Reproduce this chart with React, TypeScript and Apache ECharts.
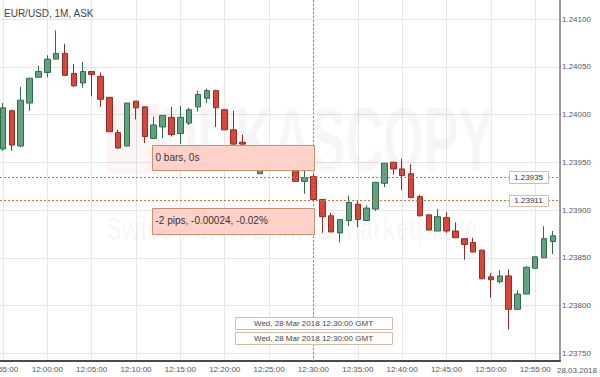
import React, { useEffect, useRef } from 'react';
import * as echarts from 'echarts';

const title = 'EUR/USD, 1M, ASK';
const dateLabel = '28.03.2018';
const measureBars = '0 bars, 0s';
const measurePips = '-2 pips, -0.00024, -0.02%';
const crossTime = 'Wed, 28 Mar 2018 12:30:00 GMT';
const levelA = 1.23935;
const levelB = 1.23911;
const crossIdx = 35;

const times = [
  '11:55', '11:56', '11:57', '11:58', '11:59',
  '12:00', '12:01', '12:02', '12:03', '12:04', '12:05', '12:06', '12:07', '12:08', '12:09',
  '12:10', '12:11', '12:12', '12:13', '12:14', '12:15', '12:16', '12:17', '12:18', '12:19',
  '12:20', '12:21', '12:22', '12:23', '12:24', '12:25', '12:26', '12:27', '12:28', '12:29',
  '12:30', '12:31', '12:32', '12:33', '12:34', '12:35', '12:36', '12:37', '12:38', '12:39',
  '12:40', '12:41', '12:42', '12:43', '12:44', '12:45', '12:46', '12:47', '12:48', '12:49',
  '12:50', '12:51', '12:52', '12:53', '12:54', '12:55', '12:56', '12:57',
];

const opens = [
  1.23964, 1.24004, 1.23967, 1.24012, 1.24039, 1.24044, 1.24058, 1.24064, 1.24043, 1.24033,
  1.24045, 1.2404, 1.24018, 1.23981, 1.23967, 1.24014, 1.24008, 1.23975, 1.23987, 1.23997,
  1.2398, 1.23991, 1.24008, 1.24017, 1.24025, 1.24005, 1.23984, 1.23971, 1.23966, 1.23938,
  1.2395, 1.23958, 1.2395, 1.23944, 1.2393, 1.23935, 1.23911, 1.23894, 1.23876, 1.23889,
  1.23906, 1.23889, 1.23901, 1.23928, 1.2395, 1.23943, 1.23938, 1.23914, 1.23895, 1.23878,
  1.23892, 1.23878, 1.2387, 1.23866, 1.23858, 1.2383, 1.23825, 1.23831, 1.23796, 1.23812,
  1.23839, 1.2385, 1.23867,
];
const closes = [
  1.24007, 1.23968, 1.24015, 1.24038, 1.24045, 1.24058, 1.24064, 1.24041, 1.2403, 1.24045,
  1.24042, 1.24016, 1.23982, 1.23965, 1.24012, 1.24007, 1.23977, 1.23989, 1.23999, 1.23979,
  1.23997, 1.24005, 1.24021, 1.24025, 1.24007, 1.23984, 1.23969, 1.23969, 1.23942, 1.2395,
  1.23958, 1.2395, 1.23955, 1.2393, 1.23934, 1.23911, 1.23893, 1.23877, 1.2389, 1.23908,
  1.2389, 1.23902, 1.23929, 1.23949, 1.23943, 1.23936, 1.23913, 1.23894, 1.23879, 1.23893,
  1.23878, 1.23871, 1.23864, 1.23856, 1.23828, 1.23827, 1.23831, 1.23796, 1.23812, 1.2384,
  1.23851, 1.2387, 1.23873,
];
const lows = [
  1.23962, 1.23962, 1.23966, 1.24004, 1.24039, 1.24039, 1.24058, 1.24041, 1.24029, 1.24028,
  1.24019, 1.24008, 1.23982, 1.23964, 1.23967, 1.23995, 1.2397, 1.23975, 1.23975, 1.23977,
  1.23969, 1.23989, 1.24003, 1.24012, 1.23987, 1.23984, 1.23968, 1.23962, 1.23941, 1.23938,
  1.23948, 1.23947, 1.23948, 1.2393, 1.23917, 1.2391, 1.23876, 1.23877, 1.23866, 1.23883,
  1.23882, 1.23889, 1.23899, 1.23924, 1.23937, 1.23921, 1.23913, 1.23893, 1.23879, 1.23878,
  1.23876, 1.23871, 1.23848, 1.23856, 1.23828, 1.23808, 1.23823, 1.23775, 1.23796, 1.23812,
  1.23839, 1.2385, 1.23854,
];
const highs = [
  1.24012, 1.24005, 1.24029, 1.24038, 1.24051, 1.24062, 1.24088, 1.24074, 1.24053, 1.24055,
  1.24045, 1.24044, 1.24018, 1.23984, 1.24012, 1.24014, 1.24008, 1.23998, 1.23999, 1.24008,
  1.24009, 1.24007, 1.24025, 1.24027, 1.24026, 1.24005, 1.24004, 1.23979, 1.23968, 1.23955,
  1.23963, 1.23961, 1.23957, 1.23945, 1.23942, 1.23938, 1.23911, 1.23897, 1.2389, 1.23915,
  1.2391, 1.23905, 1.23929, 1.23949, 1.2395, 1.23954, 1.23948, 1.23916, 1.23895, 1.23901,
  1.23898, 1.23887, 1.2387, 1.23871, 1.23858, 1.23834, 1.23837, 1.23838, 1.23816, 1.23841,
  1.23851, 1.23883, 1.23878,
];

const xMin = -0.327;
const xMax = 62.79;
const yMin = 1.237419;
const yMax = 1.241199;

const FONT = "'Liberation Sans', Arial, sans-serif";

export default function App() {
  const ref = useRef<HTMLDivElement>(null);

  useEffect(() => {
    const chart = echarts.init(ref.current as HTMLDivElement, null, { renderer: 'svg' });
    const data = times.map((_, i) => [i, opens[i], closes[i], lows[i], highs[i]]);

    chart.setOption({
      animation: false,
      backgroundColor: '#ffffff',
      grid: { left: 0, right: 40, top: 0, bottom: 16, containLabel: false, outerBoundsMode: 'none' },
      xAxis: {
        type: 'value',
        min: xMin,
        max: xMax,
        splitNumber: 13,
        minInterval: 5,
        maxInterval: 5,
        axisLine: { show: true, onZero: false, lineStyle: { color: '#4a4a4a', width: 2 } },
        axisTick: { show: false },
        axisLabel: {
          showMinLabel: false,
          showMaxLabel: false,
          fontSize: 8,
          fontFamily: FONT,
          color: '#555',
          margin: 4,
          formatter: (v: number) => {
            const i = Math.round(v);
            if (Math.abs(v - i) > 1e-6 || i % 5 !== 0 || i < 0 || i >= times.length) return '';
            return times[i] + ':00';
          },
        },
        splitLine: {
          show: true,
          showMinLine: false,
          showMaxLine: false,
          lineStyle: { color: '#e6e6e6', width: 1 },
        },
      },
      yAxis: {
        type: 'value',
        position: 'right',
        min: yMin,
        max: yMax,
        scale: true,
        splitNumber: 8,
        minInterval: 0.0005,
        maxInterval: 0.0005,
        axisLine: { show: true, onZero: false, lineStyle: { color: '#9a9a9a', width: 2 } },
        axisTick: { show: false },
        axisLabel: {
          showMinLabel: false,
          showMaxLabel: false,
          fontSize: 8,
          fontFamily: FONT,
          color: '#555',
          margin: 2,
          formatter: (v: number) => v.toFixed(5),
        },
        splitLine: {
          show: true,
          showMinLine: false,
          showMaxLine: false,
          lineStyle: { color: '#e6e6e6', width: 1 },
        },
      },
      series: [
        {
          type: 'candlestick',
          dimensions: ['idx', 'open', 'close', 'lowest', 'highest'],
          encode: { x: 'idx', y: ['open', 'close', 'lowest', 'highest'] },
          data,
          barWidth: 6,
          z: 5,
          itemStyle: {
            color: '#62a27e',
            color0: '#d8463a',
            borderColor: '#2f6b4b',
            borderColor0: '#8e2e25',
            borderWidth: 1,
          },
          emphasis: { disabled: true },
        },
      ],
    });

    const pA = chart.convertToPixel({ gridIndex: 0 }, [crossIdx, levelA]) as number[];
    const pB = chart.convertToPixel({ gridIndex: 0 }, [crossIdx, levelB]) as number[];
    const pTL = chart.convertToPixel({ gridIndex: 0 }, [xMin, yMax]) as number[];
    const pBR = chart.convertToPixel({ gridIndex: 0 }, [xMax, yMin]) as number[];
    const xc = Math.round(pA[0]) + 0.5;
    const yA = Math.round(pA[1]) + 0.5;
    const yB = Math.round(pB[1]) + 0.5;
    const left = pTL[0];
    const top = pTL[1];
    const right = pBR[0];
    const bottom = pBR[1];

    const lineColor = '#c27a45';
    const dotted = (x1: number, y1: number, x2: number, y2: number) => ({
      type: 'line',
      z: 60,
      silent: true,
      shape: { x1, y1, x2, y2 },
      style: { stroke: lineColor, lineWidth: 1, lineDash: [2, 2] },
    });
    const txt = (x: number, y: number, text: string, size: number, fill: string, align = 'left', z = 101) => ({
      type: 'text',
      x,
      y,
      z,
      silent: true,
      style: { text, fontSize: size, fontFamily: FONT, fill, align, verticalAlign: 'middle' },
    });
    const box = (x: number, y: number, w: number, h: number, fill: string, stroke: string) => ({
      type: 'rect',
      z: 100,
      silent: true,
      shape: { x: Math.round(x) + 0.5, y: Math.round(y) + 0.5, width: w, height: h },
      style: { fill, stroke, lineWidth: 1 },
    });

    chart.setOption({
      graphic: [
        // watermark
        {
          type: 'rect',
          z: 1,
          silent: true,
          shape: { x: 107, y: 104, width: 52, height: 70 },
          style: { fill: 'rgba(225,60,60,0.05)' },
        },
        {
          type: 'text',
          x: 160,
          y: 140,
          z: 1,
          scaleX: 0.58,
          silent: true,
          style: {
            text: 'DUKASCOPY',
            fontSize: 90,
            fontWeight: 'bold',
            fontFamily: FONT,
            fill: 'rgba(0,0,0,0.035)',
            verticalAlign: 'middle',
          },
        },
        {
          type: 'text',
          x: 106,
          y: 228,
          z: 1,
          scaleX: 0.7,
          silent: true,
          style: {
            text: 'Swiss Forex Bank & Marketplace',
            fontSize: 34,
            fontWeight: 'bold',
            fontFamily: FONT,
            fill: 'rgba(0,0,0,0.03)',
            verticalAlign: 'middle',
          },
        },
        // crosshair and level lines
        dotted(xc, top, xc, bottom),
        dotted(left, yA, right, yA),
        dotted(left, yB, right, yB),
        // title
        txt(4, 13, title, 10, '#444'),
        // measurement boxes
        box(xc - 162, yA - 33, 162, 25, '#ffd1c8', '#cf8d6f'),
        txt(xc - 158, yA - 20, measureBars, 10, '#333'),
        box(xc - 162, yB + 7, 162, 26, '#ffd1c8', '#cf8d6f'),
        txt(xc - 158, yB + 20, measurePips, 10, '#333'),
        // price level labels
        box(right - 51, yA - 7, 39, 12, '#ffffff', '#d8b9a2'),
        txt(right - 31.5, yA - 0.5, levelA.toFixed(5), 8, '#333', 'center'),
        box(right - 51, yB - 6, 39, 11, '#ffffff', '#d8b9a2'),
        txt(right - 31.5, yB - 0.5, levelB.toFixed(5), 8, '#333', 'center'),
        // crosshair time labels
        box(xc - 79, bottom - 44, 157, 12, '#ffffff', '#d8b9a2'),
        txt(xc, bottom - 37.5, crossTime, 8, '#444', 'center'),
        box(xc - 79, bottom - 29, 157, 12, '#ffffff', '#d8b9a2'),
        txt(xc, bottom - 22.5, crossTime, 8, '#444', 'center'),
        // date on axis corner
        txt(597, 370, dateLabel, 8, '#555', 'right'),
      ],
    });

    return () => {
      chart.dispose();
    };
  }, []);

  return (
    <div
      ref={ref}
      style={{ position: 'fixed', left: 0, top: 0, width: 600, height: 377, background: '#fff' }}
    />
  );
}
